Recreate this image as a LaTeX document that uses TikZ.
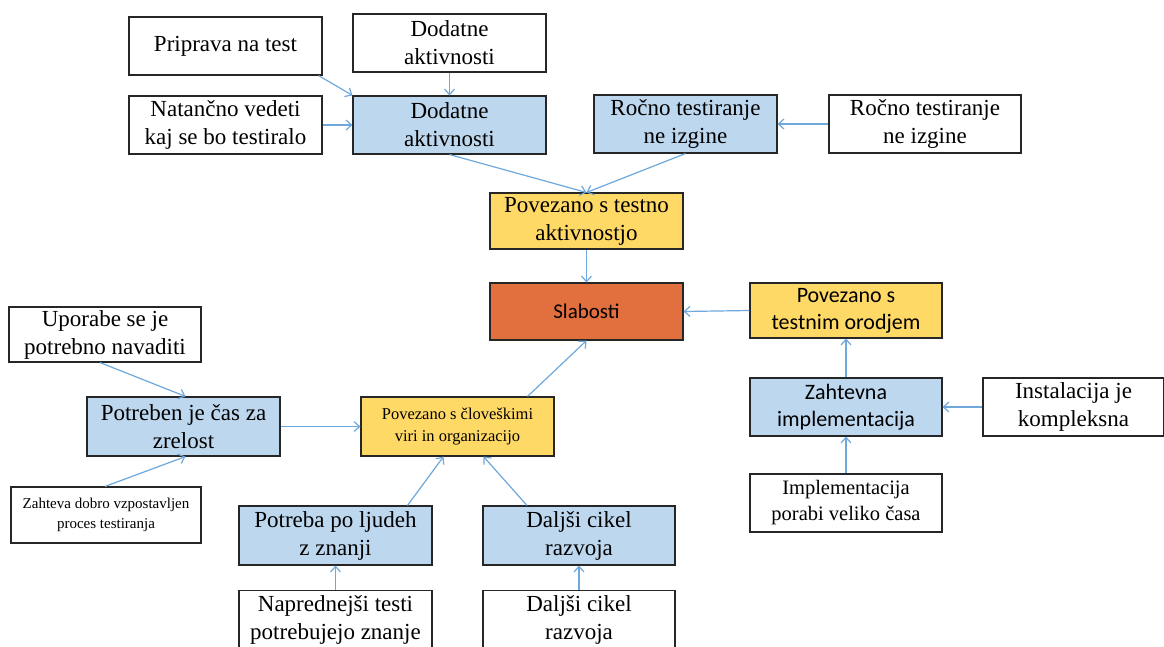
\documentclass[tikz,border=0pt]{standalone}
\usepackage{fontspec}
\setmainfont{Liberation Serif}
\newfontfamily\calibrifont{Carlito}
\usetikzlibrary{arrows.meta}
\definecolor{boxblue}{HTML}{BDD7EE}
\definecolor{boxyellow}{HTML}{FFD966}
\definecolor{boxorange}{HTML}{E2703E}
\definecolor{arrowblue}{HTML}{6FA8DC}
\definecolor{edge}{HTML}{262626}
\tikzset{
  box/.style={draw=edge, line width=1.1pt, rectangle, align=center,
    inner sep=2pt, font=\fontsize{23}{28}\selectfont},
  dims/.style 2 args={minimum width=#1pt, minimum height=#2pt},
  plain/.style={box, fill=white},
  blue/.style={box, fill=boxblue},
  yellow/.style={box, fill=boxyellow},
  orange/.style={box, fill=boxorange},
  sans/.style={font=\calibrifont\fontsize{22}{27}\selectfont},
  link/.style={draw=arrowblue, line width=1.2pt,
    -{Straight Barb[length=5.5pt,width=10pt,line width=1.2pt]}},
}
\begin{document}
\begin{tikzpicture}[x=1pt,y=-1pt]
\useasboundingbox (0,0) rectangle (1164,646);
\clip (0,0) rectangle (1164,646);
\fill[white] (0,0) rectangle (1164,646);

% top group: test activity
\node[plain, dims={193}{58}] (prip) at (225.5,46) {Priprava na test};
\node[plain, dims={193}{58}] (dodW) at (449.5,43) {Dodatne\\aktivnosti};
\node[plain, dims={193}{58}] (nat) at (225.5,125) {Natančno vedeti\\kaj se bo testiralo};
\node[blue, dims={193}{58}] (dodB) at (449.5,125) {Dodatne\\aktivnosti};
\node[blue, dims={183}{58}] (rocB) at (685.5,124) {Ročno testiranje\\ne izgine};
\node[plain, dims={192}{58}] (rocW) at (925,124) {Ročno testiranje\\ne izgine};
\node[yellow, dims={193}{56}] (pta) at (586.5,221) {Povezano s testno\\aktivnostjo};

% centre
\node[orange, dims={193}{57}, font=\calibrifont\fontsize{21}{26}\selectfont] (slab) at (586.5,311.5) {Slabosti};

% right group: test tool
\node[yellow, dims={192}{55}, sans] (pto) at (846,310.5) {Povezano s\\testnim orodjem};
\node[blue, dims={192}{58}, sans] (zaht) at (846,407) {Zahtevna\\implementacija};
\node[plain, dims={181}{58}, font=\fontsize{23}{28}\selectfont] (inst) at (1073.5,407) {Instalacija je\\kompleksna};
\node[plain, dims={192}{58}, font=\fontsize{20.5}{26}\selectfont] (impl) at (846,503) {Implementacija\\porabi veliko časa};

% left group: people and organisation
\node[plain, dims={192}{55}] (upo) at (105,334.5) {Uporabe se je\\potrebno navaditi};
\node[blue, dims={193}{59}] (potr) at (183.5,426.5) {Potreben je čas za\\zrelost};
\node[yellow, dims={193}{59}, font=\fontsize{16.5}{22}\selectfont] (clov) at (457.5,426.5) {Povezano s človeškimi\\viri in organizacijo};
\node[plain, dims={190}{56}, font=\fontsize{15}{20}\selectfont] (zdob) at (106,515) {Zahteva dobro vzpostavljen\\proces testiranja};
\node[blue, dims={193}{59}] (pol) at (335.5,535.5) {Potreba po ljudeh\\z znanji};
\node[blue, dims={192}{59}] (dalB) at (579,535.5) {Daljši cikel\\razvoja};
\node[plain, dims={193}{59}] (napr) at (335.5,620) {Naprednejši testi\\potrebujejo znanje};
\node[plain, dims={192}{59}] (dalW) at (579,620) {Daljši cikel\\razvoja};

% connectors
\draw[link] ([xshift=-4pt]prip.south east) -- (dodB.north west);
\draw[link] (dodW.south) -- (dodB.north);
\draw[link] (nat.east) -- (dodB.west);
\draw[link] (dodB.south) -- (pta.north);
\draw[link] (rocB.south) -- (pta.north);
\draw[link] (rocW.west) -- (rocB.east);
\draw[link] (pta.south) -- (slab.north);
\draw[link] (pto.west) -- (slab.east);
\draw[link] (zaht.north) -- (pto.south);
\draw[link] (inst.west) -- (zaht.east);
\draw[link] (impl.north) -- (zaht.south);
\draw[link] ([xshift=70pt]clov.north) -- (slab.south);
\draw[link] (potr.east) -- (clov.west);
\draw[link] ([xshift=-5pt]upo.south) -- ([xshift=2pt]potr.north);
\draw[link] ([xshift=-1pt]zdob.north) -- ([xshift=2pt]potr.south);
\draw[link] ([xshift=72pt]pol.north) -- ([xshift=-14pt]clov.south);
\draw[link] ([xshift=-52pt]dalB.north) -- ([xshift=26pt]clov.south);
\draw[link] (napr.north) -- (pol.south);
\draw[link] (dalW.north) -- (dalB.south);
\end{tikzpicture}
\end{document}
